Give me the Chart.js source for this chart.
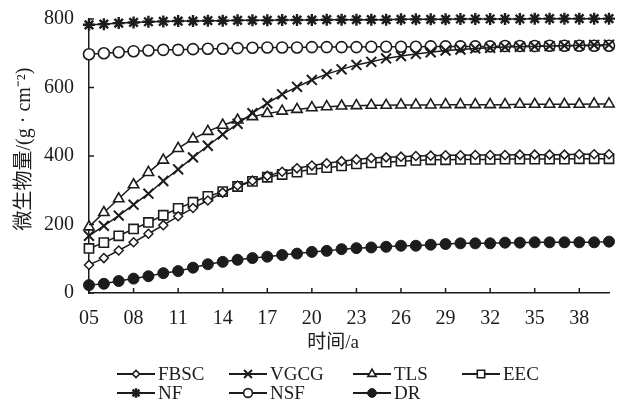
<!DOCTYPE html>
<html>
<head>
<meta charset="utf-8">
<script src="https://cdn.jsdelivr.net/npm/chart.js@4"></script>
<style>
  html, body { margin: 0; padding: 0; background: #fff; }
  #wrap { width: 621px; height: 404px; }
</style>
</head>
<body>
<div id="wrap"><canvas id="bioChart" width="621" height="404"></canvas></div>
<script>
// tahun (sumbu x)
const years = ["05","06","07","08","09","10","11","12","13","14","15","16","17","18","19","20","21","22",
               "23","24","25","26","27","28","29","30","31","32","33","34","35","36","37","38","39","40"];
const xTickLabels = ["05","08","11","14","17","20","23","26","29","32","35","38"];
const yTickValues = [0, 200, 400, 600, 800];

// nilai tiap seri
const FBSC = [82,102,124,148,173,198,224,248,270,293,314,328,342,354,364,372,379,385,390,394,
              396,398,400,401,402,402,403,403,403,404,404,404,404,405,405,405];
const VGCG = [167,196,226,258,290,327,361,396,430,463,494,525,554,580,602,622,639,653,666,675,
              685,692,698,703,708,711,714,716,718,719,720,721,722,723,724,725];
const TLS  = [193,235,275,316,352,388,422,450,472,490,505,515,524,531,536,541,544,546,547,548,
              548,549,549,549,550,550,550,550,550,551,551,551,551,551,552,552];
const EEC  = [130,147,167,187,206,227,247,265,282,296,311,326,338,346,353,361,366,371,377,380,
              382,385,387,389,389,390,390,390,391,391,391,391,391,392,392,392];
const NF   = [783,785,788,790,792,793,794,794,795,795,796,796,796,797,797,797,798,798,798,798,
              798,799,799,799,799,800,800,800,800,800,801,801,801,801,801,801];
const NSF  = [697,700,703,706,708,710,710,712,713,713,715,716,717,717,717,718,718,718,718,719,
              719,719,719,720,720,720,720,720,721,721,721,722,722,722,722,722];
const DR   = [23,27,35,42,49,58,64,74,84,91,97,102,106,111,115,120,123,128,131,133,
              135,138,138,141,143,145,145,145,147,147,148,148,148,148,148,150];

const ink = "#1c1c1c";
const serif = "'Liberation Serif', 'Noto Sans CJK SC', serif";

function series(label, data, style, radius, fill, bw) {
    return {
        label: label,
        data: data,
        borderColor: ink,
        borderWidth: 1.5,
        pointStyle: style,
        pointRadius: radius,
        pointHoverRadius: radius,
        pointBackgroundColor: fill,
        pointBorderColor: ink,
        pointBorderWidth: bw,
        tension: 0,
        clip: false
    };
}

const datasets = [
    series("FBSC", FBSC, "rectRot", 4.5, "#fff", 1.5),
    series("VGCG", VGCG, "crossRot", 7, "#fff", 2),
    series("TLS", TLS, "triangle", 6, "#fff", 1.6),
    series("EEC", EEC, "rect", 6.5, "#fff", 1.6),
    series("NF", NF, "star", 6, ink, 2.4),
    series("NSF", NSF, "circle", 5.5, "#fff", 1.6),
    series("DR", DR, "circle", 5.5, ink, 1)
];

// tick ke dalam, judul sumbu dan legenda
const legendPos = [[117,374],[229,374],[353,374],[462,374],[117,393],[229,393],[353,393]];

const extras = {
    id: "extras",
    afterDraw(chart) {
        const ctx = chart.ctx;
        const xs = chart.scales.x, ys = chart.scales.y;
        const area = chart.chartArea;
        ctx.save();
        ctx.strokeStyle = ink;
        ctx.lineWidth = 1.5;
        ctx.beginPath();
        xTickLabels.forEach(lbl => {
            const px = xs.getPixelForValue(years.indexOf(lbl));
            ctx.moveTo(px, area.bottom);
            ctx.lineTo(px, area.bottom - 5);
        });
        yTickValues.forEach(v => {
            const py = ys.getPixelForValue(v);
            ctx.moveTo(area.left, py);
            ctx.lineTo(area.left + 5, py);
        });
        ctx.stroke();

        // judul sumbu
        ctx.fillStyle = ink;
        ctx.textBaseline = "middle";
        ctx.textAlign = "center";
        ctx.font = "19px " + serif;
        ctx.fillText("时间/a", 333, 343);

        ctx.save();
        ctx.translate(25, 149);
        ctx.rotate(-Math.PI / 2);
        ctx.font = "20px " + serif;
        ctx.fillText("微生物量/(g · cm⁻²)", 0, 0);
        ctx.restore();

        // legenda
        ctx.font = "19px " + serif;
        ctx.textAlign = "left";
        chart.data.datasets.forEach((ds, i) => {
            const [lx, ly] = legendPos[i];
            ctx.strokeStyle = ink;
            ctx.lineWidth = 1.8;
            ctx.beginPath();
            ctx.moveTo(lx, ly);
            ctx.lineTo(lx + 38, ly);
            ctx.stroke();
            ctx.fillStyle = ds.pointBackgroundColor;
            ctx.lineWidth = ds.pointBorderWidth;
            Chart.helpers.drawPoint(ctx, {
                pointStyle: ds.pointStyle,
                radius: ds.pointRadius * 0.8,
                rotation: 0,
                borderWidth: ds.pointBorderWidth
            }, lx + 19, ly);
            ctx.fillStyle = ink;
            ctx.fillText(ds.label, lx + 41, ly + 1);
        });
        ctx.restore();
    }
};

new Chart(document.getElementById("bioChart").getContext("2d"), {
    type: "line",
    data: { labels: years, datasets: datasets },
    options: {
        responsive: false,
        animation: false,
        events: [],
        layout: { padding: { top: 19, right: 12, bottom: 0, left: 0 } },
        plugins: { legend: { display: false }, tooltip: { enabled: false } },
        scales: {
            x: {
                type: "category",
                offset: false,
                grid: { display: false },
                border: { display: true, color: ink, width: 1.5 },
                ticks: {
                    autoSkip: false,
                    maxRotation: 0,
                    padding: 6,
                    color: ink,
                    font: { family: serif, size: 20 },
                    callback: function(v, i) {
                        return xTickLabels.includes(years[i]) ? years[i] : null;
                    }
                },
                afterFit: function(scale) { scale.height = 404 - 293; }
            },
            y: {
                min: 0,
                max: 800,
                grid: { display: false },
                border: { display: true, color: ink, width: 1.5 },
                ticks: {
                    stepSize: 200,
                    padding: 7,
                    color: ink,
                    font: { family: serif, size: 20 }
                },
                afterFit: function(scale) { scale.width = 89; }
            }
        }
    },
    plugins: [extras]
});
</script>
</body>
</html>
